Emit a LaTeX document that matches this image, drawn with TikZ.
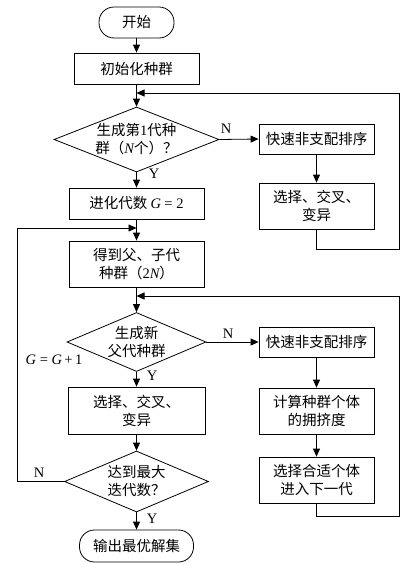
\documentclass[tikz,border=0pt]{standalone}
\usepackage{fontspec}
\setmainfont{Liberation Serif}
\newfontfamily\cjk{Noto Sans CJK SC}
\usetikzlibrary{arrows.meta,shapes.geometric}
\newcommand\li[1]{{\rmfamily\itshape #1}}
\newcommand\lr[1]{{\rmfamily #1}}
\begin{document}
\begin{tikzpicture}[x=1pt,y=-1pt,
  every node/.style={font=\cjk\fontsize{14.5}{18}\selectfont},
  box/.style={draw, rectangle, inner sep=0pt, align=center, line width=0.8pt},
  term/.style={box, rounded corners=15pt},
  dia/.style={draw, diamond, inner sep=0pt, line width=0.8pt},
  arr/.style={-{Triangle[length=8pt,width=7pt]}, line width=0.8pt},
  lab/.style={font=\rmfamily\fontsize{14.5}{18}\selectfont, inner sep=0pt}
]
\fill[white] (0,0) rectangle (412,565);
\useasboundingbox (0,0) rectangle (412,565);

% left column
\node[term, minimum width=75pt, minimum height=31pt] (start) at (136.5,22.5) {开始};
\node[box, minimum width=125pt, minimum height=31pt] (init) at (136.5,68.5) {初始化种群};
\node[dia, minimum width=165pt, minimum height=65pt,
  label={[align=center]center:{生成第\lr{1}代种\\群（\li{N}个）？}}] (d1) at (136.5,139.5) {};
\node[box, minimum width=135pt, minimum height=31pt] (gen) at (136.5,203.5) {进化代数 \li{G} \lr{= 2}};
\node[box, minimum width=135pt, minimum height=46pt] (get) at (136.5,264) {得到父、子代\\种群（\lr{2}\li{N}）};
\node[dia, minimum width=139pt, minimum height=59pt,
  label={[align=center]center:{生成新\\父代种群}}] (d2) at (136.5,342) {};
\node[box, minimum width=137pt, minimum height=47pt] (sel) at (136.5,410.5) {选择、交叉、\\变异};
\node[dia, minimum width=144pt, minimum height=61pt,
  label={[align=center]center:{达到最大\\迭代数？}}] (d3) at (136.5,481.5) {};
\node[term, minimum width=114pt, minimum height=32pt] (end) at (136.5,546) {输出最优解集};

% right column
\node[box, minimum width=115pt, minimum height=30pt] (r1) at (316.5,139) {快速非支配排序};
\node[box, minimum width=115pt, minimum height=46pt] (r2) at (316.5,206) {选择、交叉、\\变异};
\node[box, minimum width=115pt, minimum height=30pt] (r3) at (316.5,342) {快速非支配排序};
\node[box, minimum width=115pt, minimum height=46pt] (r4) at (316.5,411) {计算种群个体\\的拥挤度};
\node[box, minimum width=115pt, minimum height=46pt] (r5) at (316.5,480) {选择合适个体\\进入下一代};

% junction coordinates
\coordinate (m1) at (136.5,93);
\coordinate (e1) at (399,249);
\coordinate (m2) at (136.5,228);
\coordinate (e2) at (17,228);
\coordinate (m3) at (136.5,296);
\coordinate (e3) at (399,516);

% main flow
\draw[arr] (start) -- (init);
\draw[arr] (init) -- (d1);
\draw[arr] (d1) -- (gen);
\draw[arr] (gen) -- (get);
\draw[arr] (get) -- (d2);
\draw[arr] (d2) -- (sel);
\draw[arr] (sel) -- (d3);
\draw[arr] (d3) -- (end);

% branches
\draw[arr] (d1.east) -- (r1.west);
\draw[arr] (r1) -- (r2);
\draw[arr] (r2.south) |- (e1) |- (m1);
\draw[arr] (d2.east) -- (r3.west);
\draw[arr] (r3) -- (r4);
\draw[arr] (r4) -- (r5);
\draw[arr] (r5.south) |- (e3) |- (m3);
\draw[arr] (d3.west) -| (e2) -- (m2);

% labels
\node[lab] (n1) at (226,129) {N};
\node[lab] (y1) at (154,174) {Y};
\node[lab] (n2) at (228,334) {N};
\node[lab] (y2) at (152,376) {Y};
\node[lab] (gg) at (54,360) {\li{G} = \li{G}\,+\,1};
\node[lab] (n3) at (39,473) {N};
\node[lab] (y3) at (152,519) {Y};
\end{tikzpicture}
\end{document}
